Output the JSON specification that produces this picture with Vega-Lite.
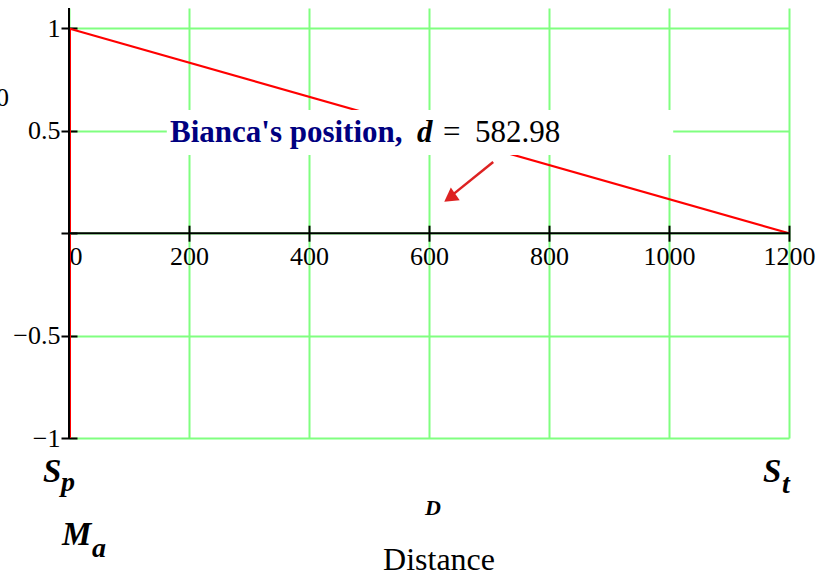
{
  "$schema": "https://vega.github.io/schema/vega-lite/v6.json",
  "width": 720,
  "height": 430,
  "autosize": "none",
  "padding": {"left": 69, "top": 8, "right": 51, "bottom": 138},
  "background": "white",
  "config": {"view": {"stroke": null}, "font": "Liberation Serif", "axis": {"labelFont": "Liberation Serif"}, "text": {"font": "Liberation Serif"}},
  "layer": [
    {
      "data": {"values": [
        {"series": "Ma", "i": 0, "x": 1.5, "y": -1},
        {"series": "Ma", "i": 1, "x": 1.5, "y": 1},
        {"series": "D", "i": 0, "x": 0, "y": 1},
        {"series": "D", "i": 1, "x": 1200, "y": 0}
      ]},
      "mark": {"type": "line", "color": "#ff0000", "strokeWidth": 2.2},
      "encoding": {
        "x": {"field": "x", "type": "quantitative", "scale": {"domain": [0, 1200], "nice": false, "zero": false},
          "axis": {"orient": "top", "values": [0, 200, 400, 600, 800, 1000, 1200], "grid": true, "gridColor": "#80ff80", "gridWidth": 2, "gridOpacity": 1, "labels": false, "ticks": false, "domain": false, "title": null}},
        "y": {"field": "y", "type": "quantitative", "scale": {"domain": [-1, 1.1], "nice": false, "zero": false},
          "axis": {"orient": "right", "values": [-1, -0.5, 0, 0.5, 1], "grid": true, "gridColor": "#80ff80", "gridWidth": 2, "gridOpacity": 1, "labels": false, "ticks": false, "domain": false, "title": null}},
        "detail": {"field": "series"},
        "order": {"field": "i"}
      }
    },
    {
      "data": {"values": [{}]},
      "mark": {"type": "rule", "color": "black", "strokeWidth": 2},
      "encoding": {
        "x": {"datum": 0, "type": "quantitative",
          "axis": {"orient": "bottom", "offset": -212.8, "values": [0, 200, 400, 600, 800, 1000, 1200], "format": "d", "labelExpr": "datum.value == 0 ? ' 0' : datum.label", "labelAlign": {"condition": {"test": "datum.value == 0", "value": "left"}, "value": "center"}, "tickSize": 16, "tickWidth": 2, "tickColor": "black", "domain": false, "grid": false, "labelFont": "Liberation Serif", "labelFontSize": 26, "labelColor": "black", "labelPadding": 2, "labelFlush": false, "labelOverlap": false, "labelBound": false, "title": null}}
      }
    },
    {
      "data": {"values": [{}]},
      "mark": {"type": "rule", "color": "black", "strokeWidth": 2},
      "encoding": {
        "y": {"datum": 0, "type": "quantitative",
          "axis": {"orient": "left", "offset": -8, "values": [-1, -0.5, 0, 0.5, 1], "format": "~g", "labelExpr": "datum.value == 0 ? '' : datum.label", "tickSize": 16, "tickWidth": 2, "tickColor": "black", "domain": false, "grid": false, "labelFont": "Liberation Serif", "labelFontSize": 26, "labelColor": "black", "labelPadding": 1, "labelOverlap": false, "labelBound": false, "title": null}}
      }
    },
    {
      "data": {"values": [{}]},
      "mark": {"type": "rect", "fill": "white"},
      "encoding": {
        "x": {"datum": 163, "type": "quantitative", "axis": null},
        "x2": {"datum": 1007},
        "y": {"datum": 0.602, "type": "quantitative", "axis": null},
        "y2": {"datum": 0.382}
      }
    },
    {
      "data": {"values": [{}]},
      "mark": {"type": "text", "text": "Bianca's position,", "font": "Liberation Serif", "fontSize": 31, "fontWeight": "bold", "color": "#000080", "align": "left", "baseline": "alphabetic"},
      "encoding": {"x": {"datum": 168.3, "type": "quantitative", "axis": null}, "y": {"datum": 0.446, "type": "quantitative", "axis": null}}
    },
    {
      "data": {"values": [{}]},
      "mark": {"type": "text", "text": "d", "font": "Liberation Serif", "fontSize": 31, "fontWeight": "bold", "fontStyle": "italic", "color": "black", "align": "left", "baseline": "alphabetic"},
      "encoding": {"x": {"datum": 580, "type": "quantitative", "axis": null}, "y": {"datum": 0.446, "type": "quantitative", "axis": null}}
    },
    {
      "data": {"values": [{}]},
      "mark": {"type": "text", "text": "=", "font": "Liberation Serif", "fontSize": 31, "color": "black", "align": "left", "baseline": "alphabetic"},
      "encoding": {"x": {"datum": 623.3, "type": "quantitative", "axis": null}, "y": {"datum": 0.446, "type": "quantitative", "axis": null}}
    },
    {
      "data": {"values": [{}]},
      "mark": {"type": "text", "text": "582.98", "font": "Liberation Serif", "fontSize": 31, "color": "black", "align": "left", "baseline": "alphabetic"},
      "encoding": {"x": {"datum": 676.7, "type": "quantitative", "axis": null}, "y": {"datum": 0.446, "type": "quantitative", "axis": null}}
    },
    {
      "data": {"values": [{}]},
      "mark": {"type": "rule", "color": "#dd2222", "strokeWidth": 2.5},
      "encoding": {
        "x": {"datum": 707, "type": "quantitative", "axis": null},
        "y": {"datum": 0.348, "type": "quantitative", "axis": null},
        "x2": {"datum": 636},
        "y2": {"datum": 0.18}
      }
    },
    {
      "data": {"values": [{}]},
      "mark": {"type": "point", "shape": "triangle-up", "filled": true, "color": "#dd2222", "opacity": 1, "size": 240, "angle": 235},
      "encoding": {"x": {"datum": 634.6, "type": "quantitative", "axis": null}, "y": {"datum": 0.173, "type": "quantitative", "axis": null}}
    },
    {
      "data": {"values": [{}]},
      "mark": {"type": "text", "text": "0", "font": "Liberation Serif", "fontSize": 26, "color": "black", "align": "right", "baseline": "alphabetic"},
      "encoding": {"x": {"datum": -100, "type": "quantitative", "axis": null}, "y": {"datum": 0.621, "type": "quantitative", "axis": null}}
    },
    {
      "data": {"values": [{}]},
      "mark": {"type": "text", "text": "S", "font": "Liberation Serif", "fontSize": 33, "fontWeight": "bold", "fontStyle": "italic", "color": "black", "align": "left", "baseline": "alphabetic"},
      "encoding": {"x": {"datum": -43.3, "type": "quantitative", "axis": null}, "y": {"datum": -1.215, "type": "quantitative", "axis": null}}
    },
    {
      "data": {"values": [{}]},
      "mark": {"type": "text", "text": "p", "font": "Liberation Serif", "fontSize": 28, "fontWeight": "bold", "fontStyle": "italic", "color": "black", "align": "left", "baseline": "alphabetic"},
      "encoding": {"x": {"datum": -13.3, "type": "quantitative", "axis": null}, "y": {"datum": -1.259, "type": "quantitative", "axis": null}}
    },
    {
      "data": {"values": [{}]},
      "mark": {"type": "text", "text": "M", "font": "Liberation Serif", "fontSize": 33, "fontWeight": "bold", "fontStyle": "italic", "color": "black", "align": "left", "baseline": "alphabetic"},
      "encoding": {"x": {"datum": -11.7, "type": "quantitative", "axis": null}, "y": {"datum": -1.5226, "type": "quantitative", "axis": null}}
    },
    {
      "data": {"values": [{}]},
      "mark": {"type": "text", "text": "a", "font": "Liberation Serif", "fontSize": 28, "fontWeight": "bold", "fontStyle": "italic", "color": "black", "align": "left", "baseline": "alphabetic"},
      "encoding": {"x": {"datum": 38.3, "type": "quantitative", "axis": null}, "y": {"datum": -1.581, "type": "quantitative", "axis": null}}
    },
    {
      "data": {"values": [{}]},
      "mark": {"type": "text", "text": "S", "font": "Liberation Serif", "fontSize": 33, "fontWeight": "bold", "fontStyle": "italic", "color": "black", "align": "left", "baseline": "alphabetic"},
      "encoding": {"x": {"datum": 1156.7, "type": "quantitative", "axis": null}, "y": {"datum": -1.215, "type": "quantitative", "axis": null}}
    },
    {
      "data": {"values": [{}]},
      "mark": {"type": "text", "text": "t", "font": "Liberation Serif", "fontSize": 28, "fontWeight": "bold", "fontStyle": "italic", "color": "black", "align": "left", "baseline": "alphabetic"},
      "encoding": {"x": {"datum": 1188.3, "type": "quantitative", "axis": null}, "y": {"datum": -1.2686, "type": "quantitative", "axis": null}}
    },
    {
      "data": {"values": [{}]},
      "mark": {"type": "text", "text": "D", "font": "Liberation Serif", "fontSize": 22, "fontWeight": "bold", "fontStyle": "italic", "color": "black", "align": "left", "baseline": "alphabetic"},
      "encoding": {"x": {"datum": 593.3, "type": "quantitative", "axis": null}, "y": {"datum": -1.376, "type": "quantitative", "axis": null}}
    },
    {
      "data": {"values": [{}]},
      "mark": {"type": "text", "text": "Distance", "font": "Liberation Serif", "fontSize": 32, "color": "black", "align": "center", "baseline": "alphabetic"},
      "encoding": {"x": {"datum": 616.7, "type": "quantitative", "axis": null}, "y": {"datum": -1.645, "type": "quantitative", "axis": null}}
    }
  ]
}
